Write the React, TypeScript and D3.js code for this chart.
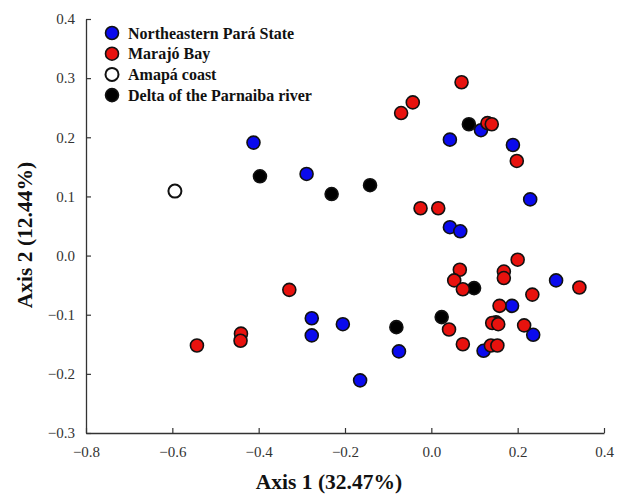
import React, { useRef, useEffect } from "react";
import * as d3 from "d3";

// PCoA scores: [axis1, axis2]
const northeasternPara: [number, number][] = [
  [-0.412, 0.191], [-0.289, 0.138], [0.043, 0.196], [0.115, 0.212], [0.189, 0.187],
  [0.229, 0.095], [0.043, 0.048], [0.067, 0.041], [0.289, -0.042], [0.187, -0.085],
  [0.236, -0.134], [0.121, -0.161], [-0.277, -0.106], [-0.277, -0.135], [-0.205, -0.116],
  [-0.075, -0.162], [-0.165, -0.211],
];

const marajoBay: [number, number][] = [
  [0.07, 0.293], [-0.043, 0.259], [-0.07, 0.241], [0.13, 0.224], [0.14, 0.222],
  [0.198, 0.16], [-0.025, 0.08], [0.016, 0.08], [0.2, -0.007], [0.066, -0.024],
  [0.053, -0.042], [0.073, -0.057], [0.168, -0.027], [0.168, -0.038], [0.343, -0.054],
  [0.234, -0.066], [0.158, -0.085], [0.15, -0.113], [0.141, -0.114], [0.155, -0.116],
  [0.215, -0.118], [0.041, -0.125], [0.073, -0.15], [0.138, -0.152], [0.153, -0.152],
  [-0.329, -0.058], [-0.441, -0.132], [-0.442, -0.144], [-0.543, -0.152],
];

const amapaCoast: [number, number][] = [[-0.594, 0.109]];

const parnaibaDelta: [number, number][] = [
  [0.087, 0.222], [-0.231, 0.104], [-0.142, 0.119], [-0.397, 0.134],
  [0.099, -0.055], [0.024, -0.104], [-0.081, -0.121],
];

const legendLabels = [
  "Northeastern Pará State",
  "Marajó Bay",
  "Amapá coast",
  "Delta of the Parnaiba river",
];

const xTicks = [-0.8, -0.6, -0.4, -0.2, 0.0, 0.2, 0.4];
const yTicks = [-0.3, -0.2, -0.1, 0.0, 0.1, 0.2, 0.3, 0.4];

export default function App() {
  const svgRef = useRef<SVGSVGElement>(null);

  useEffect(() => {
    const svg = d3.select(svgRef.current);
    svg.selectAll("*").remove();

    const width = 622;
    const height = 494;
    const margin = { top: 19, right: 18, bottom: 61, left: 86 };

    svg
      .attr("width", width)
      .attr("height", height)
      .style("display", "block")
      .style("background", "#fff");

    const x = d3.scaleLinear().domain([-0.8, 0.4]).range([margin.left, width - margin.right]);
    const y = d3.scaleLinear().domain([-0.3, 0.4]).range([height - margin.bottom, margin.top]);

    const font = "'Liberation Serif', 'Times New Roman', serif";

    // Axes (ticks point inward)
    const xAxis = svg.append("g")
      .attr("transform", `translate(0,${y(-0.3)})`)
      .call(
        d3.axisBottom(x).tickValues(xTicks).tickSizeInner(-5).tickSizeOuter(0)
          .tickPadding(11).tickFormat(d3.format(".1f"))
      );
    const yAxis = svg.append("g")
      .attr("transform", `translate(${x(-0.8)},0)`)
      .call(
        d3.axisLeft(y).tickValues(yTicks).tickSizeInner(-5).tickSizeOuter(0)
          .tickPadding(11).tickFormat(d3.format(".1f"))
      );

    [xAxis, yAxis].forEach((ax) => {
      ax.select(".domain").attr("stroke", "#333").attr("stroke-width", 1.3);
      ax.selectAll(".tick line").attr("stroke", "#333").attr("stroke-width", 1.2);
      ax.selectAll(".tick text")
        .attr("fill", "#333")
        .style("font-family", font)
        .style("font-size", "15px");
    });
    xAxis.selectAll(".tick text").attr("dy", "0.85em");

    // Axis titles
    svg.append("text")
      .attr("x", 329)
      .attr("y", 489)
      .attr("text-anchor", "middle")
      .style("font-family", font)
      .style("font-size", "21.5px")
      .style("font-weight", "bold")
      .attr("fill", "#111")
      .text("Axis 1 (32.47%)");

    svg.append("text")
      .attr("transform", `translate(32,${235}) rotate(-90)`)
      .attr("text-anchor", "middle")
      .style("font-family", font)
      .style("font-size", "21.5px")
      .style("font-weight", "bold")
      .attr("fill", "#111")
      .text("Axis 2 (12.44%)");

    const groups = [
      { data: parnaibaDelta, fill: "#000000" },
      { data: amapaCoast, fill: "#ffffff" },
      { data: northeasternPara, fill: "#0a0aee" },
      { data: marajoBay, fill: "#e8120e" },
    ];

    const r = 6.5;
    groups.forEach((gr) => {
      svg.append("g")
        .selectAll("circle")
        .data(gr.data)
        .join("circle")
        .attr("cx", (d) => x(d[0]))
        .attr("cy", (d) => y(d[1]))
        .attr("r", r)
        .attr("fill", gr.fill)
        .attr("stroke", "#111")
        .attr("stroke-width", gr.fill === "#ffffff" ? 2 : 1.6);
    });

    // Legend
    const legendFills = ["#0a0aee", "#e8120e", "#ffffff", "#000000"];
    const legend = svg.append("g").attr("transform", "translate(112,33)");
    const rows = legend.selectAll("g")
      .data(legendLabels)
      .join("g")
      .attr("transform", (_, i) => `translate(0,${i * 20.7})`);
    rows.append("circle")
      .attr("r", r)
      .attr("fill", (_, i) => legendFills[i])
      .attr("stroke", "#111")
      .attr("stroke-width", (_, i) => (i === 2 ? 2 : 1.6));
    rows.append("text")
      .attr("x", 16)
      .attr("dy", "0.35em")
      .style("font-family", font)
      .style("font-size", "16px")
      .style("font-weight", "bold")
      .attr("fill", "#111")
      .text((d) => d);
  }, []);

  return <svg ref={svgRef} style={{ position: "absolute", left: 0, top: 0 }} />;
}
